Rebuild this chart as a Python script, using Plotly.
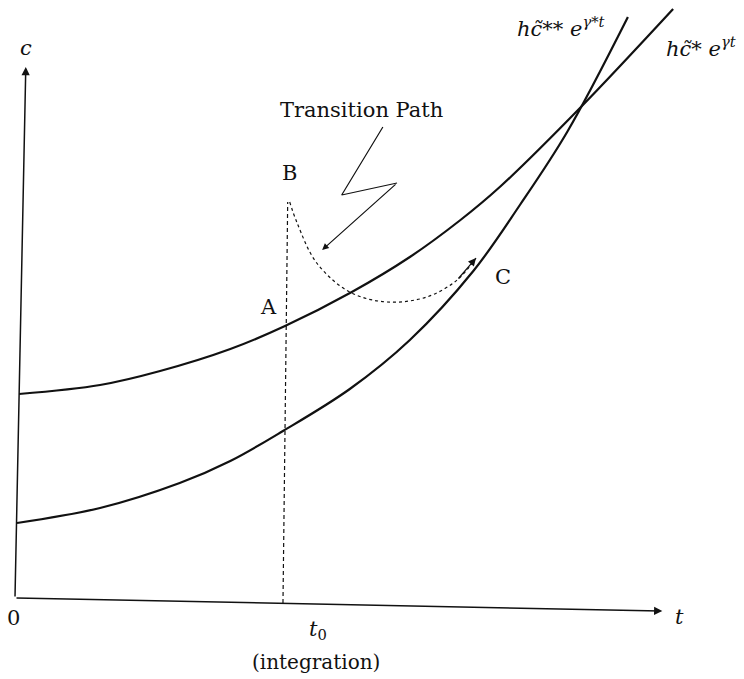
import plotly.graph_objects as go

# Balanced-growth consumption paths (t, c in diagram units)
t_low_growth = [0.06, 1.26, 2.15, 3.19, 4.00, 4.99, 5.85, 6.59, 7.19, 8.37, 9.75]
c_low_growth = [4.08, 4.26, 4.54, 4.98, 5.44, 6.12, 6.82, 7.55, 8.23, 9.80, 11.78]

t_high_growth = [0.03, 1.26, 2.44, 3.19, 3.97, 4.96, 5.85, 6.79, 7.48, 8.18, 9.08]
c_high_growth = [1.50, 1.80, 2.30, 2.74, 3.34, 4.18, 5.16, 6.54, 7.86, 9.32, 11.62]

# Transition path from B to C
t_transition = [4.07, 4.18, 4.47, 4.96, 5.51, 6.10, 6.55, 6.83]
c_transition = [7.92, 7.50, 6.70, 6.12, 5.92, 6.02, 6.36, 6.80]

# Integration date t0 (vertical marker from axis up to B)
t_marker = [3.97, 4.04]
c_marker = [-0.10, 7.92]

# Zig-zag pointer to the transition path
t_pointer = [5.45, 4.84, 5.66]
c_pointer = [9.42, 8.06, 8.30]
pointer_tip = (4.55, 6.96)

# Axes endpoints
x_axis_end = (9.59, -0.26)
y_axis_end = (0.16, 10.62)

SERIF = "DejaVu Serif, Liberation Serif, serif"
INK = "#111111"

fig = go.Figure()

for tt, cc in ((t_low_growth, c_low_growth), (t_high_growth, c_high_growth)):
    fig.add_trace(go.Scatter(x=tt, y=cc, mode="lines",
                             line=dict(color=INK, width=2.2, shape="spline", smoothing=1.0),
                             hoverinfo="skip"))
fig.add_trace(go.Scatter(x=t_transition, y=c_transition, mode="lines",
                         line=dict(color=INK, width=1.2, dash="3px,3px", shape="spline"),
                         hoverinfo="skip"))
fig.add_trace(go.Scatter(x=t_marker, y=c_marker, mode="lines",
                         line=dict(color=INK, width=1.2, dash="4px,3px"),
                         hoverinfo="skip"))
fig.add_trace(go.Scatter(x=t_pointer, y=c_pointer, mode="lines",
                         line=dict(color=INK, width=1.2),
                         hoverinfo="skip"))

annotations = []

def arrow(tail, head, width=1.5, size=1.0):
    annotations.append(dict(x=head[0], y=head[1], ax=tail[0], ay=tail[1],
                            xref="x", yref="y", axref="x", ayref="y",
                            showarrow=True, arrowhead=2, arrowsize=size,
                            arrowwidth=width, arrowcolor=INK, text=""))

# coordinate axes
arrow((0, 0), x_axis_end, width=1.5, size=1.1)
arrow((0, 0), y_axis_end, width=1.5, size=1.1)
# pointer arrow
arrow((t_pointer[-1], c_pointer[-1]), pointer_tip, width=1.2, size=1.1)
# arrowhead at the end of the transition path
arrow((t_transition[-2], c_transition[-2]), (t_transition[-1], c_transition[-1]),
      width=1.2, size=1.3)

def label(x, y, text, size=21, xanchor="center"):
    annotations.append(dict(x=x, y=y, xref="x", yref="y", text=text,
                            showarrow=False, xanchor=xanchor, yanchor="middle",
                            font=dict(family=SERIF, size=size, color=INK)))

label(0.16, 11.0, "<i>c</i>")
label(9.85, -0.38, "<i>t</i>")
label(-0.02, -0.40, "0")
label(4.49, -0.64, "<i>t</i><sub>0</sub>")
label(4.46, -1.28, "(integration)", size=20)
label(3.75, 5.82, "A")
label(4.07, 8.50, "B")
label(7.23, 6.42, "C")
label(5.13, 9.76, "Transition Path", size=21)
label(7.40, 11.42, "<i>h</i><i>c̃</i>** <i>e</i><sup><i>γ*t</i></sup>", xanchor="left")
label(9.62, 11.02, "<i>h</i><i>c̃</i>* <i>e</i><sup><i>γt</i></sup>", xanchor="left")

fig.update_layout(
    width=744, height=679,
    margin=dict(l=0, r=0, t=0, b=0),
    paper_bgcolor="white", plot_bgcolor="white",
    showlegend=False,
    xaxis=dict(range=[-0.222, 10.8], visible=False, fixedrange=True),
    yaxis=dict(range=[-1.62, 11.96], visible=False, fixedrange=True),
    annotations=annotations,
)

fig.write_html("out.html")
